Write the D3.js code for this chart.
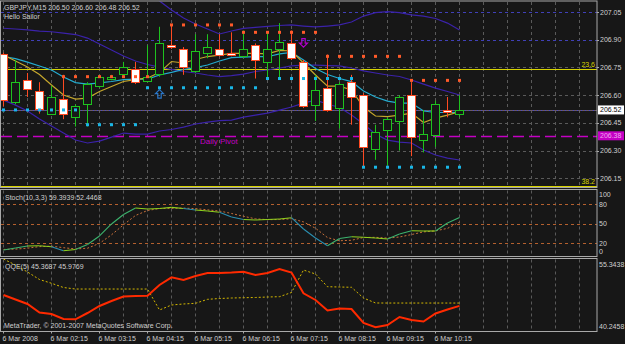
<!DOCTYPE html>
<html>
<head>
<meta charset="utf-8">
<script src="https://cdn.jsdelivr.net/npm/d3@7"></script>
<style>
  body { margin: 0; background: #171717; }
  text { font-family: "Liberation Sans", Arial, sans-serif; }
</style>
</head>
<body>
<div id="chart"></div>
<script>
// *** DATA ***
const times = ["01:15","01:30","01:45","02:00","02:15","02:30","02:45","03:00","03:15","03:30",
  "03:45","04:00","04:15","04:30","04:45","05:00","05:15","05:30","05:45","06:00",
  "06:15","06:30","06:45","07:00","07:15","07:30","07:45","08:00","08:15","08:30",
  "08:45","09:00","09:15","09:30","09:45","10:00","10:15","10:30","10:45"];

const open  = [206.82,206.56,206.68,206.62,206.50,206.58,206.48,206.55,206.65,206.69,206.71,206.74,206.68,206.71,206.87,206.85,206.73,206.83,206.85,206.83,
  206.81,206.87,206.78,206.85,206.88,206.78,206.55,206.64,206.53,206.67,206.60,206.31,206.41,206.46,206.60,206.36,206.38,206.52,206.50];
const high  = [206.83,206.79,206.72,206.67,206.65,206.71,206.55,206.67,206.71,206.71,206.78,206.78,206.87,206.97,206.98,206.86,206.93,206.93,206.93,206.94,
  206.95,206.88,206.94,206.99,206.95,206.79,206.71,206.82,206.67,206.71,206.61,206.44,206.48,206.60,206.67,206.52,206.57,206.59,206.60];
const low   = [206.54,206.55,206.59,206.50,206.50,206.47,206.43,206.43,206.64,206.68,206.70,206.66,206.67,206.70,206.85,206.71,206.72,206.80,206.81,206.81,
  206.80,206.69,206.69,206.69,206.79,206.53,206.46,206.51,206.42,206.44,206.21,206.25,206.22,206.30,206.27,206.29,206.32,206.48,206.48];
const close = [206.57,206.67,206.63,206.52,206.59,206.50,206.54,206.66,206.70,206.70,206.75,206.67,206.70,206.88,206.86,206.75,206.84,206.86,206.82,206.82,
  206.85,206.79,206.85,206.89,206.80,206.54,206.63,206.52,206.66,206.59,206.32,206.40,206.47,206.59,206.37,206.39,206.55,206.51,206.52];

const maFast = [206.809,206.798,206.779,206.758,206.736,206.698,206.668,206.660,206.666,206.674,206.684,206.687,206.687,206.709,206.723,206.739,206.749,206.763,206.785,206.803,
  206.806,206.808,206.808,206.823,206.831,206.790,206.744,206.712,206.690,206.673,206.622,206.590,206.568,206.557,206.557,206.514,206.506,206.506,206.507];
const maSlow = [206.817,206.785,206.752,206.712,206.655,206.601,206.579,206.584,206.620,206.647,206.674,206.684,206.693,206.722,206.782,206.774,206.793,206.809,206.817,206.826,
  206.826,206.826,206.823,206.842,206.839,206.774,206.709,206.649,206.649,206.628,206.536,206.487,206.484,206.492,206.503,206.452,206.476,206.492,206.510];

const bandUpper = [null,null,null,null,null,null,null,null,null,null,null,null,207.148,207.110,207.061,207.018,206.985,206.958,206.931,206.947,
  206.961,206.967,206.972,206.977,206.980,206.974,206.969,206.974,206.980,206.996,207.028,207.047,207.052,207.047,207.034,207.028,207.015,206.990,206.953];
const bandMiddle = [206.962,206.958,206.953,206.947,206.943,206.936,206.928,206.909,206.877,206.844,206.812,206.785,206.766,206.752,206.739,206.728,206.720,206.709,206.700,206.706,
  206.714,206.728,206.736,206.747,206.758,206.763,206.763,206.760,206.758,206.747,206.731,206.720,206.709,206.701,206.682,206.660,206.638,206.620,206.601];
const bandLower = [206.573,206.546,206.514,206.471,206.433,206.395,206.357,206.341,206.351,206.373,206.395,206.389,206.389,206.406,206.414,206.427,206.444,206.454,206.462,206.465,
  206.481,206.492,206.503,206.519,206.536,206.557,206.573,206.552,206.533,206.492,206.444,206.389,206.357,206.346,206.341,206.303,206.276,206.259,206.249];

const resistDots = [null,null,null,null,null,206.70,206.70,206.70,206.70,206.70,206.70,206.70,206.70,null,206.98,206.98,206.98,206.98,206.98,206.98,
  206.94,206.94,206.94,206.94,206.94,206.94,206.94,206.81,206.81,206.81,206.81,206.81,206.81,206.81,206.68,206.68,206.68,206.68,206.68];
const supportDots = [206.52,206.52,206.52,206.52,206.52,206.52,206.52,206.44,206.44,206.44,206.44,206.44,206.64,206.64,206.64,206.64,206.64,206.64,206.64,206.64,
  206.64,206.64,206.69,206.69,206.69,206.69,206.69,206.69,206.69,206.69,206.21,206.21,206.21,206.21,206.21,206.21,206.21,206.21,206.21];

const arrowBars = [13, 25];
const arrowPrices = [206.63, 206.86];
const arrowDirs = ["up", "down"];

const stochK = [9.1,12.2,15.3,15.8,14.3,8.1,9.9,17.7,30.9,49.5,64.2,74.3,72.7,73.5,75.3,73.5,71.2,69.6,67.6,60.3,
  56.4,55.7,56.4,57.2,59.2,41.7,27.8,15.8,27.0,29.8,28.8,27.8,26.2,34.0,39.1,38.6,38.6,51.0,59.39];
const stochD = [10.0,10.5,12.0,14.4,15.1,12.7,10.8,11.9,19.5,32.7,48.2,62.7,70.4,73.5,73.8,74.1,73.3,71.4,69.5,65.8,
  61.4,57.5,56.2,56.4,57.6,52.7,42.9,28.4,23.5,24.2,28.5,28.8,27.6,29.3,33.1,37.2,38.8,42.7,52.45];
const stochLevels = [80, 50, 20];
const stochTicks = ["100", "80", "50", "20", "0"];

const qqeRsi = [47.69,46.73,45.78,43.97,43.65,42.59,42.52,43.86,45.35,46.41,47.37,47.48,47.54,49.81,51.45,50.88,51.73,52.37,52.37,52.47,
  52.64,51.94,52.37,53.22,52.47,48.05,46.63,44.39,44.82,44.71,41.73,40.82,41.31,43.01,42.37,42.05,43.75,44.60,45.37];
const qqeTrail = [55.34,54.07,52.58,50.98,50.18,49.28,48.96,48.96,48.96,48.96,48.96,48.96,48.96,44.50,45.56,45.78,45.92,46.77,46.94,47.05,
  47.11,47.16,47.26,47.33,48.22,53.00,52.15,49.45,49.39,49.33,47.05,45.99,45.98,45.98,45.98,45.98,45.98,45.98,45.98];
const qqeRange = [40.2458, 55.3438];

const priceTicks = [207.05, 206.90, 206.75, 206.60, 206.45, 206.30, 206.15];
const fibLevels = [206.74, 206.11];
const fibLabels = ["23.6", "38.2"];
const pivotPrice = 206.38;
const lastPrice = 206.52;

const timeTickBars = [0, 4, 8, 12, 16, 20, 24, 28, 32, 36];
const timeTickLabels = ["6 Mar 2008","6 Mar 02:15","6 Mar 03:15","6 Mar 04:15","6 Mar 05:15",
  "6 Mar 06:15","6 Mar 07:15","6 Mar 08:15","6 Mar 09:15","6 Mar 10:15"];

// *** SETTINGS ***
let width = 625, height = 344, plotRight = 597;
let main = {top: 1, bottom: 187.5}, stochP = {top: 189.5, bottom: 256.5}, qqeP = {top: 258.5, bottom: 331.5};
let colors = {bg: "#171717", border: "#a9a9a9", grid: "#5a5a5a", text: "#cfcfcf",
  bull: "#1ec21e", bear: "#ff4a22", band: "#3b22aa", fast: "#24abcf", slow: "#c4a62c",
  fib: "#d8d400", pivot: "#c400c4", resist: "#ff5a2a", support: "#19b6e6"};
let font = 7;

let svg = d3.select("#chart").append("svg")
  .attr("width", width).attr("height", height)
  .style("display", "block").style("background", colors.bg);

let x = d3.scalePoint().domain(times).range([3, 459]);
let step = x.step();
let y = d3.scaleLinear().domain([206.15, 207.05]).range([178.3, 12]);
let ys = d3.scaleLinear().domain([0, 100]).range([255.9, 191.4]);
let yq = d3.scaleLinear().domain(qqeRange).range([330, 259]);

let cx = i => x(times[i]) + 0.5;

// clip for main panel
svg.append("clipPath").attr("id", "clipMain").append("rect")
  .attr("x", 1).attr("y", main.top + 0.5).attr("width", plotRight - 1).attr("height", main.bottom - main.top - 1);

// vertical grid
let gridXs = d3.range(0, 30).map(k => x(times[0]) + k * 2 * step + 0.5).filter(v => v < plotRight - 2);
[main, stochP, qqeP].forEach(p => {
  svg.append("g").selectAll("line").data(gridXs).enter().append("line")
    .attr("x1", d => d).attr("x2", d => d)
    .attr("y1", p.top + 1).attr("y2", p.bottom - 1)
    .attr("stroke", colors.grid).attr("stroke-dasharray", "3,3");
});

// horizontal price grid
svg.append("g").selectAll("line").data(priceTicks).enter().append("line")
  .attr("x1", 1).attr("x2", plotRight)
  .attr("y1", d => Math.round(y(d)) + 0.5).attr("y2", d => Math.round(y(d)) + 0.5)
  .attr("stroke", (d, i) => i < 2 ? "#4040b8" : colors.grid)
  .attr("stroke-dasharray", "3,3");

// bid line
svg.append("line")
  .attr("x1", 1).attr("x2", plotRight)
  .attr("y1", Math.round(y(lastPrice)) + 0.5).attr("y2", Math.round(y(lastPrice)) + 0.5)
  .attr("stroke", "#6a5a6a");
svg.append("line")
  .attr("x1", 1).attr("x2", plotRight)
  .attr("y1", Math.round(y(lastPrice)) + 0.5).attr("y2", Math.round(y(lastPrice)) + 0.5)
  .attr("stroke", "#4848c8").attr("stroke-dasharray", "1,3");

// fib lines
svg.append("g").selectAll("line").data(fibLevels).enter().append("line")
  .attr("x1", 1).attr("x2", plotRight)
  .attr("y1", d => Math.round(y(d)) + 0.5).attr("y2", d => Math.round(y(d)) + 0.5)
  .attr("stroke", colors.fib).attr("stroke-width", 1.2);
svg.append("g").selectAll("text").data(fibLabels).enter().append("text")
  .attr("x", 595).attr("y", (d, i) => y(fibLevels[i]) - 2)
  .attr("text-anchor", "end").attr("font-size", font).attr("fill", colors.fib).text(d => d);

// daily pivot
svg.append("line")
  .attr("x1", 1).attr("x2", plotRight)
  .attr("y1", Math.round(y(pivotPrice)) + 0.5).attr("y2", Math.round(y(pivotPrice)) + 0.5)
  .attr("stroke", colors.pivot).attr("stroke-width", 1.6).attr("stroke-dasharray", "11,5");
svg.append("text").attr("x", 200).attr("y", y(pivotPrice) + 8.5)
  .attr("font-size", 8).attr("fill", colors.pivot).text("Daily Pivot");

// bands and moving averages
let mg = svg.append("g").attr("clip-path", "url(#clipMain)");
let lineMain = d3.line().defined(d => d != null).x((d, i) => cx(i)).y(d => y(d));
[bandUpper, bandMiddle, bandLower].forEach(s => {
  mg.append("path").attr("d", lineMain(s)).attr("fill", "none")
    .attr("stroke", colors.band).attr("stroke-width", 1.2);
});
mg.append("path").attr("d", lineMain(maFast)).attr("fill", "none").attr("stroke", colors.fast).attr("stroke-width", 1.2);
mg.append("path").attr("d", lineMain(maSlow)).attr("fill", "none").attr("stroke", colors.slow).attr("stroke-width", 1.2);

// candles
let candles = mg.append("g").selectAll("g").data(times).enter().append("g");
candles.append("line")
  .attr("x1", (d, i) => cx(i)).attr("x2", (d, i) => cx(i))
  .attr("y1", (d, i) => y(high[i])).attr("y2", (d, i) => y(low[i]))
  .attr("stroke", (d, i) => close[i] >= open[i] ? colors.bull : colors.bear);
candles.append("rect")
  .attr("x", (d, i) => cx(i) - 4).attr("width", 8)
  .attr("y", (d, i) => Math.round(y(Math.max(open[i], close[i]))) + 0.5)
  .attr("height", (d, i) => Math.max(1, Math.round(y(Math.min(open[i], close[i])) - y(Math.max(open[i], close[i])))))
  .attr("fill", (d, i) => close[i] >= open[i] ? colors.bg : "#ffffff")
  .attr("stroke", (d, i) => close[i] >= open[i] ? colors.bull : colors.bear);

// support / resistance dots
mg.append("g").selectAll("rect").data(resistDots.map((v, i) => [i, v]).filter(d => d[1] != null)).enter().append("rect")
  .attr("x", d => cx(d[0]) - 1.5).attr("y", d => y(d[1]) - 1.5).attr("width", 3).attr("height", 3)
  .attr("fill", colors.resist);
mg.append("g").selectAll("rect").data(supportDots.map((v, i) => [i, v]).filter(d => d[1] != null)).enter().append("rect")
  .attr("x", d => cx(d[0]) - 1.5).attr("y", d => y(d[1]) - 1.5).attr("width", 3).attr("height", 3)
  .attr("fill", colors.support);

// arrows
mg.append("g").selectAll("path").data(arrowBars).enter().append("path")
  .attr("transform", (d, i) => `translate(${cx(d)},${y(arrowPrices[i])})` + (arrowDirs[i] == "down" ? " scale(1,-1)" : ""))
  .attr("d", "M0,0 L4,4 L1.7,4 L1.7,8.5 L-1.7,8.5 L-1.7,4 L-4,4 Z")
  .attr("fill", "none")
  .attr("stroke", (d, i) => arrowDirs[i] == "up" ? "#2a76c8" : "#b000cc")
  .attr("stroke-width", 1.2);

// stochastic
svg.append("g").selectAll("line").data(stochLevels).enter().append("line")
  .attr("x1", 1).attr("x2", plotRight)
  .attr("y1", d => Math.round(ys(d)) + 0.5).attr("y2", d => Math.round(ys(d)) + 0.5)
  .attr("stroke", "#b4602e").attr("stroke-dasharray", "3,3");
let lineS = d3.line().x((d, i) => cx(i)).y(d => ys(d));
svg.append("path").attr("d", lineS(stochD)).attr("fill", "none")
  .attr("stroke", "#c8703a").attr("stroke-dasharray", "2,2");
svg.append("g").selectAll("line").data(stochK.slice(1)).enter().append("line")
  .attr("x1", (d, i) => cx(i)).attr("x2", (d, i) => cx(i + 1))
  .attr("y1", (d, i) => ys(stochK[i])).attr("y2", d => ys(d))
  .attr("stroke", (d, i) => d - stochK[i] > 2 ? "#3cb46e" : (d - stochK[i] < -2 ? "#2a8eb0" : "#8fd21e"))
  .attr("stroke-width", 1.1);

// QQE
let lineQ = d3.line().x((d, i) => cx(i)).y(d => yq(d));
svg.append("path").attr("d", lineQ(qqeTrail)).attr("fill", "none")
  .attr("stroke", "#d4b800").attr("stroke-dasharray", "2,2");
svg.append("path").attr("d", lineQ(qqeRsi)).attr("fill", "none")
  .attr("stroke", "#ff2a00").attr("stroke-width", 2);

// panel borders
[main, stochP, qqeP].forEach(p => {
  svg.append("rect").attr("x", 0.5).attr("y", p.top).attr("width", plotRight - 0.5).attr("height", p.bottom - p.top)
    .attr("fill", "none").attr("stroke", colors.border);
});

// right axis: price
let axisG = svg.append("g");
axisG.selectAll("text.p").data(priceTicks).enter().append("text")
  .attr("x", 600).attr("y", d => y(d) + 2.5)
  .attr("font-size", font).attr("fill", colors.text).text(d => d.toFixed(2));
axisG.selectAll("line.p").data(priceTicks).enter().append("line")
  .attr("x1", plotRight).attr("x2", plotRight + 2)
  .attr("y1", d => Math.round(y(d)) + 0.5).attr("y2", d => Math.round(y(d)) + 0.5)
  .attr("stroke", colors.border);

axisG.append("rect").attr("x", 598).attr("y", y(lastPrice) - 4.5).attr("width", 26).attr("height", 9)
  .attr("fill", "#ffffff");
axisG.append("text").attr("x", 600).attr("y", y(lastPrice) + 2.5)
  .attr("font-size", font).attr("fill", "#000000").text(lastPrice.toFixed(2));
axisG.append("rect").attr("x", 598).attr("y", y(pivotPrice) - 4.5).attr("width", 26).attr("height", 9)
  .attr("fill", colors.pivot);
axisG.append("text").attr("x", 600).attr("y", y(pivotPrice) + 2.5)
  .attr("font-size", font).attr("fill", "#f0a8f0").text(pivotPrice.toFixed(2));

// right axis: stochastic and QQE
let stochTickY = [ys(100) + 3.5, ys(80), ys(50), ys(20), ys(0) - 4];
axisG.selectAll("text.s").data(stochTicks).enter().append("text")
  .attr("x", 599).attr("y", (d, i) => stochTickY[i] + 2.5)
  .attr("font-size", font).attr("fill", colors.text).text(d => d);
axisG.append("text").attr("x", 599).attr("y", yq(qqeRange[1]) + 7.5)
  .attr("font-size", font).attr("fill", colors.text).text(qqeRange[1].toFixed(4));
axisG.append("text").attr("x", 599).attr("y", yq(qqeRange[0]) - 1.5)
  .attr("font-size", font).attr("fill", colors.text).text(qqeRange[0].toFixed(4));

// time axis
svg.append("g").selectAll("text").data(timeTickBars).enter().append("text")
  .attr("x", d => cx(d) - 1).attr("y", 340.5)
  .attr("font-size", font).attr("fill", colors.text).text((d, i) => timeTickLabels[i]);
svg.append("g").selectAll("line").data(timeTickBars).enter().append("line")
  .attr("x1", d => cx(d)).attr("x2", d => cx(d)).attr("y1", qqeP.bottom).attr("y2", qqeP.bottom + 2)
  .attr("stroke", colors.border);

// labels
let labels = [
  ["GBPJPY,M15  206.50 206.60 206.48 206.52", 4, 10],
  ["Hello Sailor", 4, 18.5],
  ["Stoch(10,3,3) 59.3939 52.4468", 5, 200],
  ["QQE(5) 45.3687 45.9769", 5, 269],
  ["MetaTrader, \u00A9 2001-2007 MetaQuotes Software Corp.", 4, 328]
];
svg.append("g").selectAll("text").data(labels).enter().append("text")
  .attr("x", d => d[1]).attr("y", d => d[2])
  .attr("font-size", font).attr("fill", colors.text).text(d => d[0]);
</script>
</body>
</html>
